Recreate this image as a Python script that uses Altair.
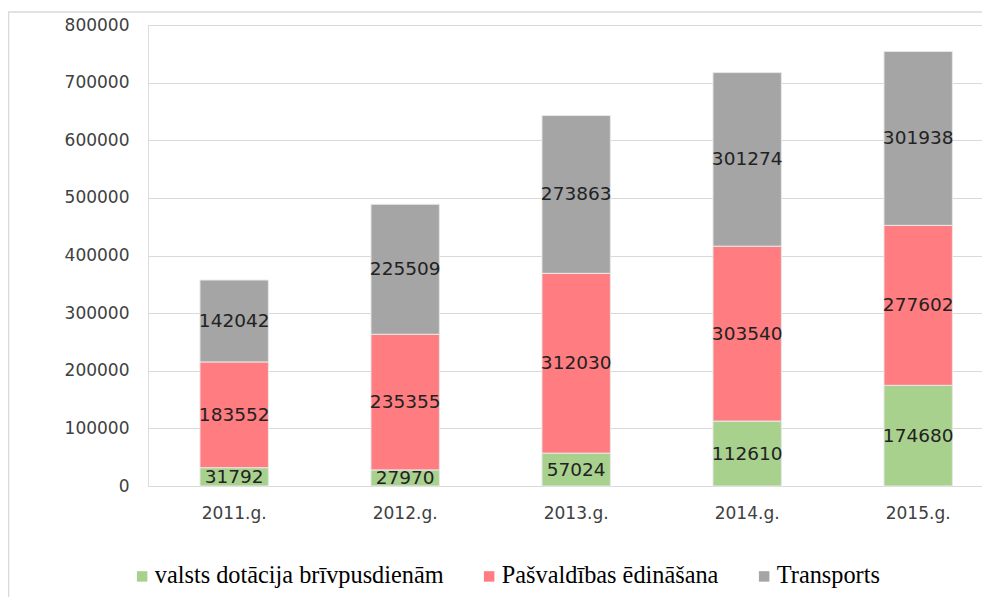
import altair as alt
import pandas as pd

years = ["2011.g.", "2012.g.", "2013.g.", "2014.g.", "2015.g."]
series = ["valsts dotācija brīvpusdienām", "Pašvaldības ēdināšana", "Transports"]
valsts = [31792, 27970, 57024, 112610, 174680]
pasv = [183552, 235355, 312030, 303540, 277602]
transp = [142042, 225509, 273863, 301274, 301938]
colors = ["#a9d18e", "#ff7c80", "#a5a5a5"]
y_ticks = [0, 100000, 200000, 300000, 400000, 500000, 600000, 700000, 800000]

rows = []
for k, (name, vals) in enumerate(zip(series, [valsts, pasv, transp])):
    for yr, v in zip(years, vals):
        rows.append({"year": yr, "series": name, "value": v, "k": k})
df = pd.DataFrame(rows)

W, H = 834, 461

x = alt.X("year:N", sort=years, title=None,
          scale=alt.Scale(paddingInner=0.6, paddingOuter=0.2386, align=0.637),
          axis=alt.Axis(labelAngle=0, ticks=False, domain=False, grid=False,
                        labelFont="DejaVu Sans", labelFontSize=17, labelColor="#404040",
                        labelPadding=19))
yscale = alt.Scale(domain=[0, 800000], nice=False)

base = alt.Chart(df).transform_stack(
    stack="value", groupby=["year"], as_=["v0", "v1"],
    sort=[alt.SortField("k", order="ascending")]
).transform_calculate(mid="(datum.v0 + datum.v1) / 2")

bars = base.mark_bar(stroke="#e8e8e8", strokeWidth=1).encode(
    x=x,
    y=alt.Y("v0:Q", scale=yscale, title=None,
            axis=alt.Axis(values=y_ticks, ticks=False, domain=False, grid=True,
                          gridColor="#d9d9d9", gridWidth=1,
                          labelFont="DejaVu Sans", labelFontSize=17, labelColor="#404040",
                          labelPadding=19, format="d")),
    y2="v1:Q",
    color=alt.Color("series:N", scale=alt.Scale(domain=series, range=colors),
                    legend=alt.Legend(title=None, orient="none", direction="horizontal",
                                      legendX=-18, legendY=539,
                                      symbolType="square", symbolSize=110,
                                      symbolStrokeWidth=0,
                                      labelFont="Liberation Serif", labelFontSize=24.3,
                                      labelColor="#000000", labelOffset=0.5,
                                      columnPadding=33, padding=0, labelLimit=400)),
)

labels = base.mark_text(font="DejaVu Sans", fontSize=18.5, color="#222222").encode(
    x=alt.X("year:N", sort=years),
    y=alt.Y("mid:Q", scale=yscale),
    text=alt.Text("value:Q", format="d"),
)

frame = alt.Chart(pd.DataFrame({"a": [0]})).mark_rect(
    fill=None, stroke="#d9d9d9", strokeWidth=1.5, clip=False
).encode(
    x=alt.value(-139.5), x2=alt.value(W + 30),
    y=alt.value(-13), y2=alt.value(H + 140),
)

chart = alt.layer(frame, bars, labels).properties(
    width=W, height=H,
    autosize=alt.AutoSizeParams(type="none"),
    padding={"left": 140, "top": 17, "right": 0, "bottom": 111},
).configure_view(stroke=None).configure(background="white")

chart.save("out.html", embed_options={"renderer": "svg", "actions": False})
